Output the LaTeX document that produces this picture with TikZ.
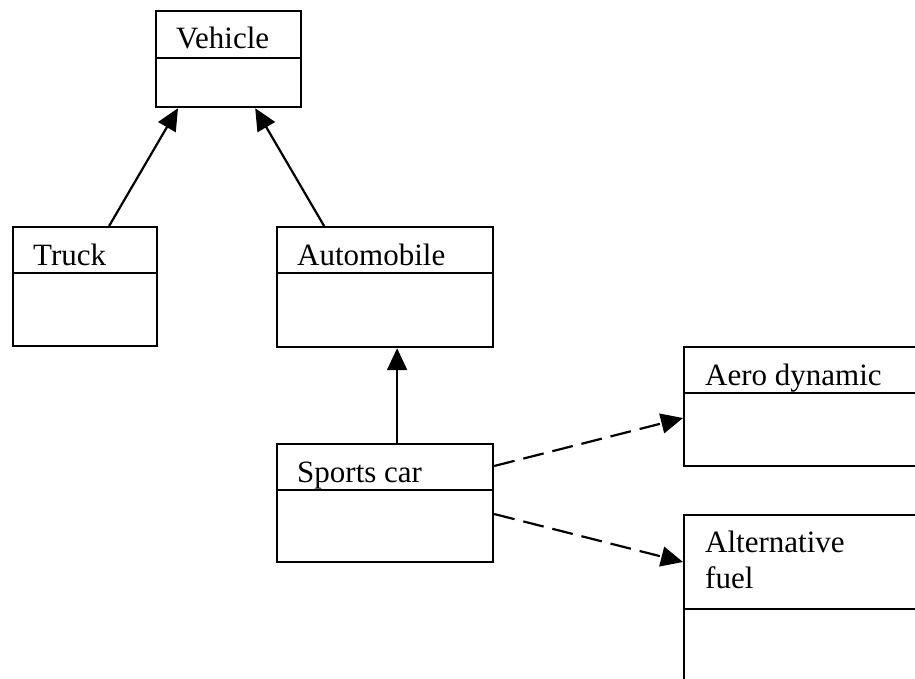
\documentclass[tikz,border=0pt]{standalone}
\usepackage{fontspec}
\setmainfont{Liberation Serif}
\usetikzlibrary{arrows.meta,calc}
\tikzset{
  classbox/.style={draw, line width=2.2pt, rectangle, inner sep=0pt, anchor=north west},
  divider/.style={line width=2.2pt},
  classname/.style={anchor=base west, inner sep=0pt, align=left,
    font=\fontsize{31}{36}\selectfont},
  inherit/.style={line width=2.2pt, -{Triangle[length=22pt,width=20pt]}},
  uses/.style={line width=2.2pt, dash pattern=on 21pt off 9pt,
    -{Triangle[length=22pt,width=20pt]}}
}
\begin{document}
\begin{tikzpicture}[x=1pt, y=-1pt]
\useasboundingbox (0,0) rectangle (915,679);
\clip (0,0) rectangle (915,679);
% class boxes
\node[classbox, minimum width=145pt, minimum height=96pt] (veh) at (155,10) {};
\node[classbox, minimum width=144pt, minimum height=119pt] (truck) at (12,226) {};
\node[classbox, minimum width=216pt, minimum height=120pt] (auto) at (276,226) {};
\node[classbox, minimum width=216pt, minimum height=118pt] (sports) at (276,443) {};
\node[classbox, minimum width=260pt, minimum height=119pt] (aero) at (683,346) {};
\node[classbox, minimum width=260pt, minimum height=190pt] (fuel) at (683,514) {};
% compartment dividers
\draw[divider] ($(veh.north west)+(0,48)$) -- ($(veh.north east)+(0,48)$);
\draw[divider] ($(truck.north west)+(0,47)$) -- ($(truck.north east)+(0,47)$);
\draw[divider] ($(auto.north west)+(0,47)$) -- ($(auto.north east)+(0,47)$);
\draw[divider] ($(sports.north west)+(0,47)$) -- ($(sports.north east)+(0,47)$);
\draw[divider] ($(aero.north west)+(0,47)$) -- ($(aero.north east)+(0,47)$);
\draw[divider] ($(fuel.north west)+(0,95)$) -- ($(fuel.north east)+(0,95)$);
% class names (a two-line name sits on the baseline of its last line)
\node[classname] (vehname) at ($(veh.north west)+(21,39)$) {Vehicle};
\node[classname] (truckname) at ($(truck.north west)+(21,39)$) {Truck};
\node[classname] (autoname) at ($(auto.north west)+(21,39)$) {Automobile};
\node[classname] (sportsname) at ($(sports.north west)+(21,39)$) {Sports car};
\node[classname] (aeroname) at ($(aero.north west)+(22,39)$) {Aero dynamic};
\node[classname] (fuelname) at ($(fuel.north west)+(22,74)$) {Alternative\\fuel};
% generalisation arrows
\draw[inherit] ($(truck.north)+(24,0)$) -- ($(veh.south west)+(23,0)$);
\draw[inherit] ($(auto.north)+(-61,0)$) -- ($(veh.south east)+(-47,0)$);
\draw[inherit] ($(sports.north)+(12,0)$) -- ($(auto.south)+(12,0)$);
% dependency arrows
\draw[uses] ($(sports.north east)+(0,23)$) -- ($(aero.north west)+(0,72)$);
\draw[uses] ($(sports.north east)+(0,71)$) -- ($(fuel.north west)+(0,48)$);
\end{tikzpicture}
\end{document}
